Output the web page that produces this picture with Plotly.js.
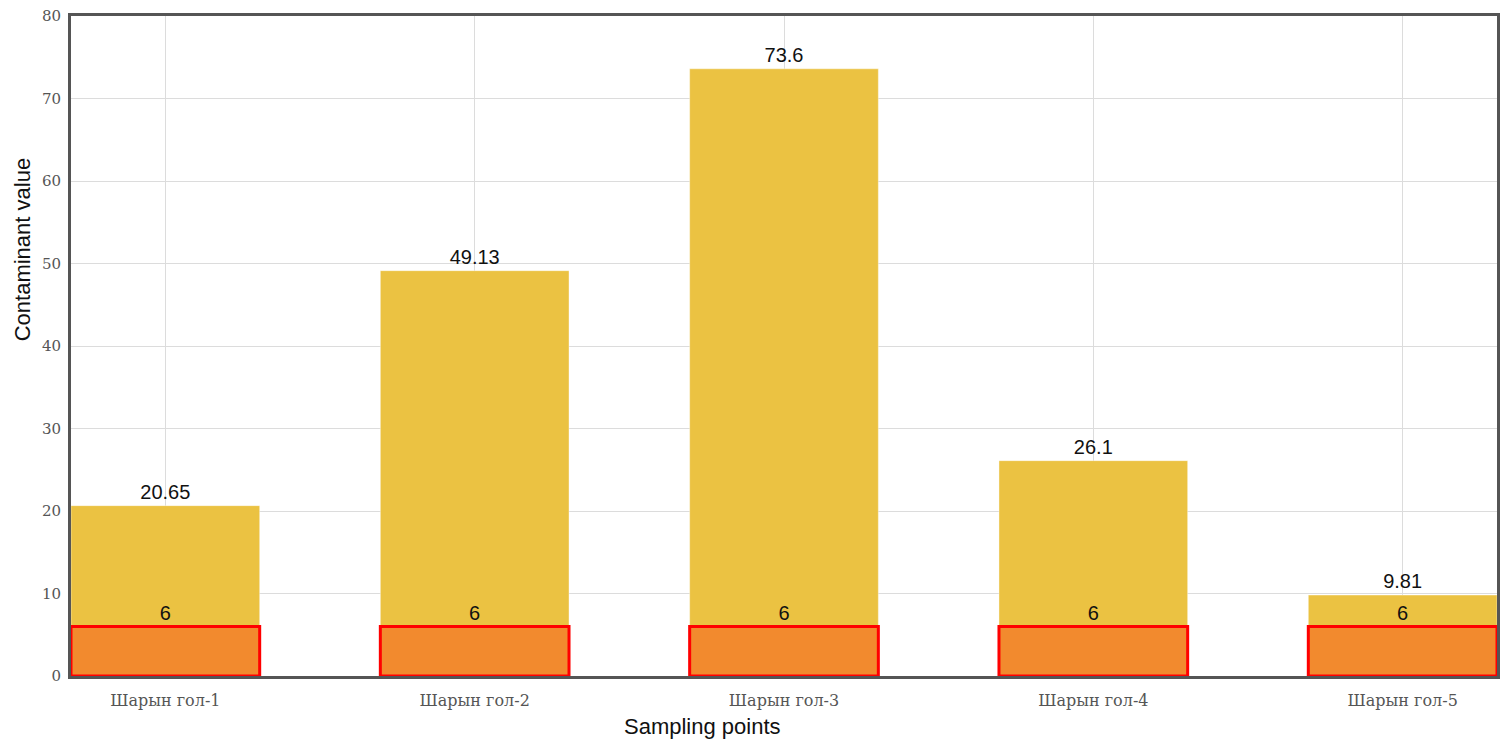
<!DOCTYPE html>
<html>
<head>
<meta charset="utf-8">
<script src="https://cdn.plot.ly/plotly-3.0.1.min.js"></script>
<style>html,body{margin:0;padding:0;background:#fff;}#chart{width:1505px;height:742px;}</style>
</head>
<body>
<div id="chart"></div>
<script>
const categories = ["Шарын гол-1", "Шарын гол-2", "Шарын гол-3", "Шарын гол-4", "Шарын гол-5"];
const measuredValues = [20.65, 49.13, 73.6, 26.1, 9.81];
const limitValues = [6, 6, 6, 6, 6];
const yTickValues = [0, 10, 20, 30, 40, 50, 60, 70, 80];

const labelFont = {family: "Liberation Sans, Arial, sans-serif", size: 20, color: "#111"};

const traces = [
  {
    type: "bar", x: categories, y: measuredValues, width: 0.61,
    marker: {color: "#EBC242", line: {color: "rgba(255,255,255,0.4)", width: 1}},
    text: measuredValues.map(String), textposition: "outside", textfont: labelFont,
    cliponaxis: false, hoverinfo: "x+y", name: "Value"
  },
  {
    type: "bar", x: categories, y: limitValues, width: 0.61,
    marker: {color: "#F28A2E", line: {color: "#FF0000", width: 3}},
    text: limitValues.map(String), textposition: "outside", textfont: labelFont,
    cliponaxis: false, hoverinfo: "x+y", name: "Limit"
  }
];

const tickFont = {family: "DejaVu Serif, Liberation Serif, serif", size: 15, color: "#555"};
const xTickFont = {family: "DejaVu Serif, Liberation Serif, serif", size: 16, color: "#555"};

const layout = {
  width: 1505, height: 742,
  margin: {l: 71, r: 8, t: 16, b: 66},
  barmode: "overlay",
  showlegend: false,
  paper_bgcolor: "#fff", plot_bgcolor: "#fff",
  xaxis: {
    type: "category", range: [-0.305, 4.305],
    showgrid: true, gridcolor: "#dcdcdc", gridwidth: 1,
    showline: true, linecolor: "#555", linewidth: 3, mirror: true,
    ticks: "", tickfont: xTickFont, ticklabelstandoff: 8,
    fixedrange: true
  },
  yaxis: {
    range: [0, 80], tickvals: yTickValues,
    showgrid: true, gridcolor: "#dcdcdc", gridwidth: 1,
    showline: true, linecolor: "#555", linewidth: 3, mirror: true,
    zeroline: false,
    ticks: "", tickfont: tickFont, ticklabelstandoff: 4,
    fixedrange: true
  },
  annotations: [
    {text: "Sampling points", xref: "paper", yref: "paper", x: 0.443, y: 0,
     xanchor: "center", yanchor: "middle", yshift: -50, showarrow: false,
     font: {family: "Liberation Sans, Arial, sans-serif", size: 22, color: "#111"}},
    {text: "Contaminant value", xref: "paper", yref: "paper", x: 0, y: 0.645,
     xanchor: "center", yanchor: "middle", xshift: -49, textangle: -90, showarrow: false,
     font: {family: "Liberation Sans, Arial, sans-serif", size: 22, color: "#111"}}
  ]
};

Plotly.newPlot("chart", traces, layout, {displayModeBar: false, staticPlot: true});
</script>
</body>
</html>
